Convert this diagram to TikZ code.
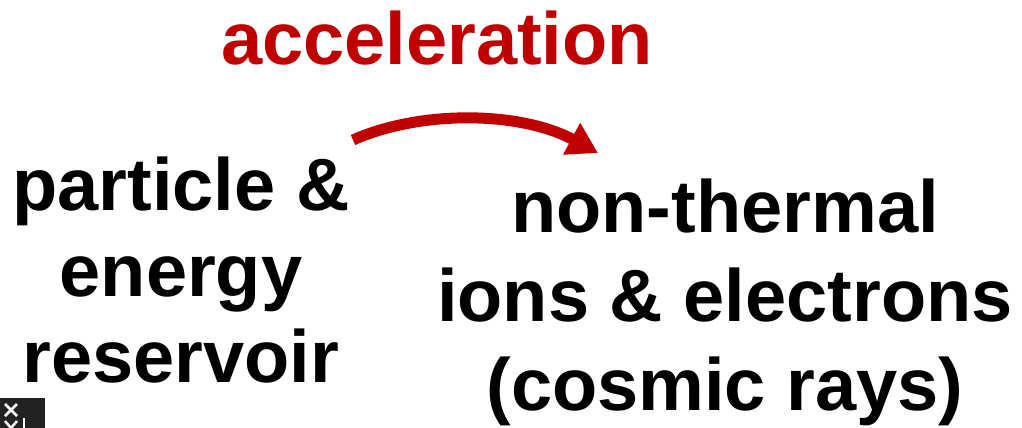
\documentclass[tikz,border=0pt]{standalone}
\usepackage{fontspec}
\setmainfont{Liberation Sans}
\usetikzlibrary{arrows.meta}
\definecolor{accred}{HTML}{C00000}
\definecolor{iconbg}{HTML}{222222}
\tikzset{
  bigtext/.style={font=\bfseries\fontsize{74}{86}\selectfont, align=center, inner sep=0pt},
  rightlines/.style={font=\bfseries\fontsize{74}{89}\selectfont},
  accarrow/.style={draw=accred, line width=11pt, -{Triangle[length=30pt,width=34pt]}}
}
\begin{document}
\begin{tikzpicture}[x=1pt,y=-1pt]
\useasboundingbox (0,0) rectangle (1022,428);
\node[bigtext, text=accred, anchor=base] (acc) at (437,65) {acceleration};
\node[bigtext, anchor=north] (res) at (181,157) {particle \&\\energy\\reservoir};
\node[bigtext, rightlines, anchor=north] (nt) at (725,179) {non-thermal\\ions \& electrons\\(cosmic rays)};
\coordinate (s) at (353,140);
\coordinate (e) at (598,153);
\path[accarrow] (s) .. controls (420,110) and (520,111) .. (e);
% broken-image glyph at bottom left
\fill[iconbg] (0,398) rectangle (45,428);
\draw[white, line width=2.5pt] (5,404) -- (17,416) (17,404) -- (5,416);
\draw[white, line width=2.5pt] (5,421) -- (11,428) (17,421) -- (11,428);
\draw[white, line width=2.5pt] (24,418) -- (24,428);
\end{tikzpicture}
\end{document}
